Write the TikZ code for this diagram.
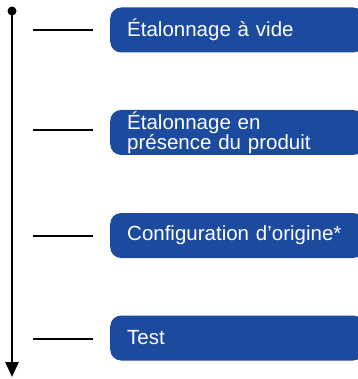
\documentclass[tikz,border=0pt]{standalone}
\usepackage{fontspec}
\setmainfont{Liberation Sans}
\usetikzlibrary{arrows.meta}
\definecolor{boxblue}{HTML}{1B4A9E}
\tikzset{
  stepbox/.style={fill=boxblue, rounded corners=11pt, minimum width=247pt, minimum height=45pt,
    text width=220pt, inner xsep=17pt, inner ysep=0pt, align=left, anchor=west, text=white,
    font=\fontsize{20.5}{16}\selectfont},
  tick/.style={line width=2.4pt},
  axis/.style={line width=2.6pt, -{Triangle[width=13pt,length=15pt]}},
}
\begin{document}
\begin{tikzpicture}[x=1pt,y=-1pt]
\useasboundingbox (0,0) rectangle (357,379);
\node[circle, fill=black, inner sep=0pt, minimum size=9pt] (dot) at (12,11) {};
\coordinate (end) at (12,377);
\draw[axis] (dot.center) -- (end);
\node[stepbox] (b1) at (110,30) {Étalonnage à vide};
\node[stepbox] (b2) at (110,132.5) {Étalonnage en\\présence du produit};
\node[stepbox] (b3) at (110,235.5) {Configuration d’origine*};
\node[stepbox] (b4) at (110,338) {Test};
\foreach \i/\y in {1/30,2/130,3/236,4/339}{
  \coordinate (l\i a) at (33,\y);
  \coordinate (l\i b) at (93,\y);
  \draw[tick] (l\i a) -- (l\i b);
}
\end{tikzpicture}
\end{document}
